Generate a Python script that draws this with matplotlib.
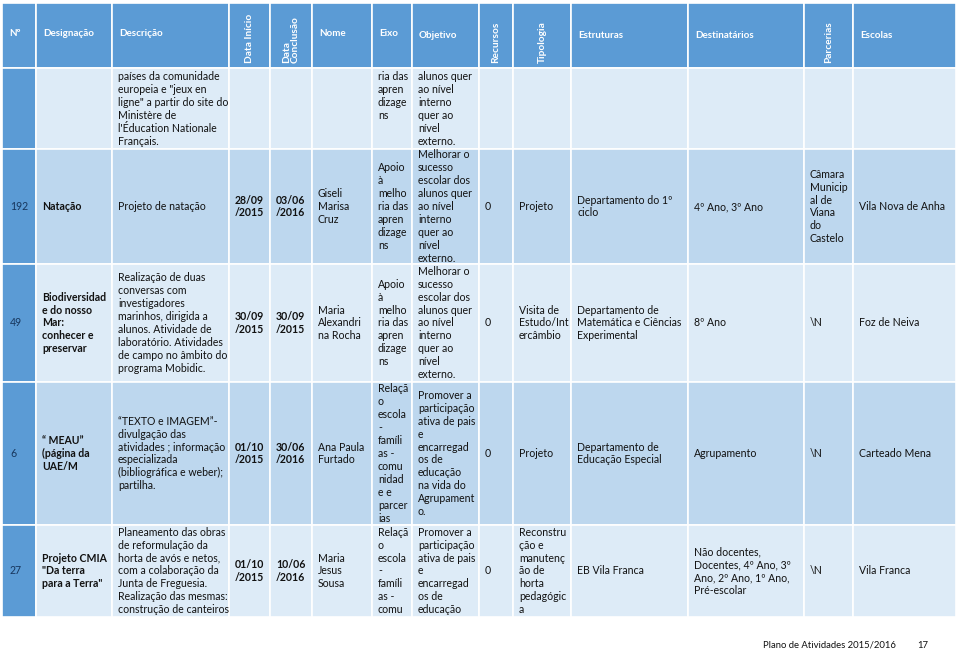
import matplotlib.pyplot as plt
import matplotlib
from matplotlib.patches import Rectangle

matplotlib.rcParams['font.family'] = ['Lato', 'DejaVu Sans']

headers = ["Nº", "Designação", "Descrição", "Data Início", "Data\nConclusão", "Nome", "Eixo",
           "Objetivo", "Recursos", "Tipologia", "Estruturas", "Destinatários", "Parcerias", "Escolas"]
vertical_headers = [3, 4, 8, 9, 12]

row_0 = ["", "", "países da comunidade\neuropeia e \"jeux en\nligne\" a partir do site do\nMinistère de\nl'Éducation Nationale\nFrançais.",
         "", "", "", "ria das\napren\ndizage\nns",
         "alunos quer\nao nível\ninterno\nquer ao\nnível\nexterno.", "", "", "", "", "", ""]
row_192 = ["192", "Natação", "Projeto de natação", "28/09\n/2015", "03/06\n/2016", "Giseli\nMarisa\nCruz",
           "Apoio\nà\nmelho\nria das\napren\ndizage\nns",
           "Melhorar o\nsucesso\nescolar dos\nalunos quer\nao nível\ninterno\nquer ao\nnível\nexterno.",
           "0", "Projeto", "Departamento do 1º\nciclo", "4º Ano, 3º Ano",
           "Câmara\nMunicip\nal de\nViana\ndo\nCastelo", "Vila Nova de Anha"]
row_49 = ["49", "Biodiversidad\ne do nosso\nMar:\nconhecer e\npreservar",
          "Realização de duas\nconversas com\ninvestigadores\nmarinhos, dirigida a\nalunos. Atividade de\nlaboratório. Atividades\nde campo no âmbito do\nprograma Mobidic.",
          "30/09\n/2015", "30/09\n/2015", "Maria\nAlexandri\nna Rocha",
          "Apoio\nà\nmelho\nria das\napren\ndizage\nns",
          "Melhorar o\nsucesso\nescolar dos\nalunos quer\nao nível\ninterno\nquer ao\nnível\nexterno.",
          "0", "Visita de\nEstudo/Int\nercâmbio", "Departamento de\nMatemática e Ciências\nExperimental",
          "8º Ano", "\\N", "Foz de Neiva"]
row_6 = ["6", "“ MEAU”\n(página da\nUAE/M",
         "“TEXTO e IMAGEM”-\ndivulgação das\natividades ; informação\nespecializada\n(bibliográfica e weber);\npartilha.",
         "01/10\n/2015", "30/06\n/2016", "Ana Paula\nFurtado",
         "Relaçã\no\nescola\n-\nfamíli\nas -\ncomu\nnidad\ne e\nparcer\nias",
         "Promover a\nparticipação\nativa de pais\ne\nencarregad\nos de\neducação\nna vida do\nAgrupament\no.",
         "0", "Projeto", "Departamento de\nEducação Especial", "Agrupamento", "\\N", "Carteado Mena"]
row_27 = ["27", "Projeto CMIA\n\"Da terra\npara a Terra\"",
          "Planeamento das obras\nde reformulação da\nhorta de avós e netos,\ncom a colaboração da\nJunta de Freguesia.\nRealização das mesmas:\nconstrução de canteiros",
          "01/10\n/2015", "10/06\n/2016", "Maria\nJesus\nSousa",
          "Relaçã\no\nescola\n-\nfamíli\nas -\ncomu",
          "Promover a\nparticipação\nativa de pais\ne\nencarregad\nos de\neducação",
          "0", "Reconstru\nção e\nmanutenç\não de\nhorta\npedagógic\na", "EB Vila Franca",
          "Não docentes,\nDocentes, 4º Ano, 3º\nAno, 2º Ano, 1º Ano,\nPré-escolar", "\\N", "Vila Franca"]
rows = [row_0, row_192, row_49, row_6, row_27]
bold_cols = [1, 3, 4]
footer = "Plano de Atividades 2015/2016"
page = "17"

# layout (pixels)
col_edges = [2, 36, 112, 229, 270, 312, 372, 412, 479, 513, 571, 688, 804, 853, 956]
row_edges = [3, 68, 149, 264, 382, 525, 617]
row_valign = ['top', 'center', 'center', 'center', 'center']
row_colors = ['#DDEBF7', '#BDD7EE', '#DDEBF7', '#BDD7EE', '#DDEBF7']
head_color = '#5B9BD5'
LS = 12.9
FS = 7.6
pad = 6

fig = plt.figure(figsize=(9.6, 6.52), dpi=100)
ax = fig.add_axes([0, 0, 1, 1])
ax.set_xlim(0, 960)
ax.set_ylim(652, 0)
ax.axis('off')


def cell(x0, x1, y0, y1, color):
    ax.add_patch(Rectangle((x0, y0), x1 - x0, y1 - y0, facecolor=color,
                           edgecolor='white', linewidth=1.2))


def put(x, y0, y1, text, valign, **kw):
    lines = text.split('\n')
    if valign == 'top':
        ys = y0 + 9
    else:
        ys = (y0 + y1) / 2 - (len(lines) - 1) * LS / 2
    for i, line in enumerate(lines):
        ax.text(x, ys + i * LS, line, va='center', ha='left', fontsize=FS, **kw)


# header
for j, h in enumerate(headers):
    x0, x1 = col_edges[j], col_edges[j + 1]
    cell(x0, x1, row_edges[0], row_edges[1], head_color)
    if j in vertical_headers:
        ax.text((x0 + x1) / 2, row_edges[1] - 5, h, rotation=90, ha='center', va='bottom',
                multialignment='left', fontsize=FS - 0.3, color='white', fontweight='bold',
                linespacing=1.0)
    else:
        yh = 33 if j < 7 else 36
        ax.text(x0 + pad + 1, yh, h, ha='left', va='center', fontsize=FS - 0.5,
                color='white', fontweight='bold')

# body
for i, r in enumerate(rows):
    y0, y1 = row_edges[i + 1], row_edges[i + 2]
    for j, val in enumerate(r):
        x0, x1 = col_edges[j], col_edges[j + 1]
        cell(x0, x1, y0, y1, head_color if j == 0 else row_colors[i])
        if not val:
            continue
        color = '#17365D' if j == 0 else '#111111'
        weight = 'bold' if j in bold_cols else 'normal'
        xp = x0 + (pad + 2 if j == 0 else pad)
        put(xp, y0, y1, val, row_valign[i], color=color, fontweight=weight)

ax.text(763, 645, footer, ha='left', va='center', fontsize=FS - 0.8, color='#111111')
ax.text(917, 645, page, ha='left', va='center', fontsize=FS - 0.8, color='#111111')

fig.savefig('out.png', dpi=100)
